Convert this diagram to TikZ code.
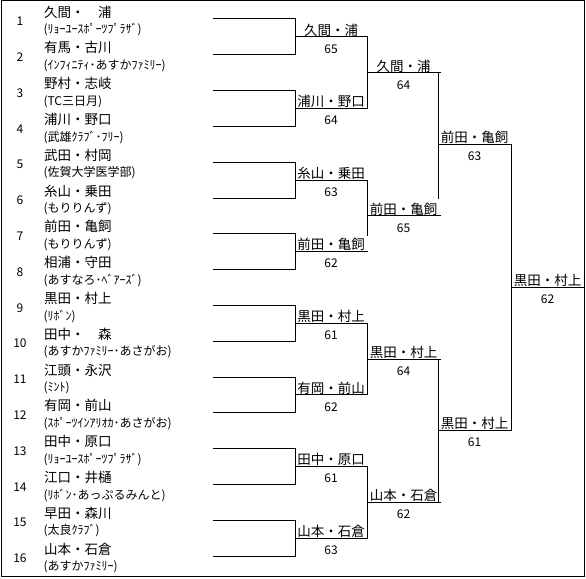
\documentclass[tikz,border=0pt]{standalone}
\usepackage{fontspec}
\newfontfamily\jp{Noto Sans CJK JP}
\begin{document}
\begin{tikzpicture}[x=1pt,y=-1pt,line width=1pt,line cap=rect,
  nm/.style={font=\jp\fontsize{13.5}{14}\selectfont,inner sep=0pt,text height=11.9pt,text depth=1.6pt,anchor=west},
  sb/.style={font=\jp\fontsize{12}{13}\selectfont,inner sep=0pt,text height=10.6pt,text depth=1.4pt,anchor=west},
  idx/.style={font=\jp\fontsize{12}{13}\selectfont,inner sep=0pt,text height=10.6pt,text depth=1.4pt},
  lab/.style={font=\jp\fontsize{13.5}{14}\selectfont,inner sep=0pt,text height=11.9pt,text depth=1.6pt},
  score/.style={font=\jp\fontsize{12}{13}\selectfont,inner sep=0pt,text height=10.6pt,text depth=1.4pt}]
\useasboundingbox (0,0) rectangle (586,578);
\draw (1,1) rectangle (584,576);
% first round: players
\foreach \i/\n/\s in {1/久間・　浦/ﾘｮｰﾕｰｽﾎﾟｰﾂﾌﾟﾗｻﾞ,
  2/有馬・古川/ｲﾝﾌｨﾆﾃｨ･あすかﾌｧﾐﾘｰ,
  3/野村・志岐/TC三日月,
  4/浦川・野口/武雄ｸﾗﾌﾞ･ﾌﾘｰ,
  5/武田・村岡/佐賀大学医学部,
  6/糸山・乗田/もりりんず,
  7/前田・亀飼/もりりんず,
  8/相浦・守田/あすなろ･ﾍﾞｱｰｽﾞ,
  9/黒田・村上/ﾘﾎﾞﾝ,
  10/田中・　森/あすかﾌｧﾐﾘｰ･あさがお,
  11/江頭・永沢/ﾐﾝﾄ,
  12/有岡・前山/ｽﾎﾟｰﾂｲﾝｱﾘｵｶ･あさがお,
  13/田中・原口/ﾘｮｰﾕｰｽﾎﾟｰﾂﾌﾟﾗｻﾞ,
  14/江口・井樋/ﾘﾎﾞﾝ･あっぷるみんと,
  15/早田・森川/太良ｸﾗﾌﾞ,
  16/山本・石倉/あすかﾌｧﾐﾘｰ} {
  \pgfmathsetmacro\ly{19+35.8*(\i-1)}
  \coordinate (p\i) at (213,\ly);
  \coordinate (q\i) at (295,\ly);
  \draw (p\i) -- (q\i);
  \node[idx] (num\i) at (20,\ly+2) {\i};
  \node[nm] (name\i) at (43.5,\ly-7) {\n};
  \node[sb] (sub\i) at (43,\ly+10) {(\s)};
}
\foreach \i/\j in {1/2,3/4,5/6,7/8,9/10,11/12,13/14,15/16} \draw (q\i) -- (q\j);
% second round
\foreach \k/\y/\w/\s in {1/37/久間・浦/65, 2/108.7/浦川・野口/64, 3/180.1/糸山・乗田/63,
  4/251.7/前田・亀飼/62, 5/323.3/黒田・村上/61, 6/394.9/有岡・前山/62,
  7/466.5/田中・原口/61, 8/538.1/山本・石倉/63} {
  \coordinate (a\k) at (295,\y);
  \coordinate (b\k) at (367,\y);
  \draw (a\k) -- (b\k);
  \node[lab] (wa\k) at (331,\y-7) {\w};
  \node[score] (sa\k) at (331,\y+11.5) {\s};
}
\coordinate (b4s) at (367,235);
\draw (b1) -- (b2);
\draw (b3) -- (b4s);
\draw (b5) -- (b6);
\draw (b7) -- (b8);
% third round
\foreach \k/\y/\w/\s in {1/72.9/久間・浦/64, 2/215.9/前田・亀飼/65, 3/359.1/黒田・村上/64, 4/502.3/山本・石倉/62} {
  \coordinate (c\k) at (367,\y);
  \coordinate (d\k) at (440,\y);
  \draw (c\k) -- (d\k);
  \node[lab] (wb\k) at (403.5,\y-7) {\w};
  \node[score] (sb\k) at (403.5,\y+11.5) {\s};
}
\coordinate (v1t) at (438,72.9);
\coordinate (v1b) at (438,198);
\coordinate (v2t) at (438,359.1);
\coordinate (v2b) at (438,502.3);
\draw (v1t) -- (v1b);
\draw (v2t) -- (v2b);
% semifinal
\foreach \k/\y/\w/\s in {1/144.4/前田・亀飼/63, 2/430.7/黒田・村上/61} {
  \coordinate (e\k) at (438,\y);
  \coordinate (f\k) at (511,\y);
  \draw (e\k) -- (f\k);
  \node[lab] (wc\k) at (474.5,\y-7) {\w};
  \node[score] (sc\k) at (474.5,\y+11.5) {\s};
}
\draw (f1) -- (f2);
% final
\coordinate (g1) at (511,287.5);
\coordinate (g2) at (584,287.5);
\draw (g1) -- (g2);
\node[lab] (wd) at (547.5,280.5) {黒田・村上};
\node[score] (sd) at (547.5,299) {62};
\end{tikzpicture}
\end{document}
